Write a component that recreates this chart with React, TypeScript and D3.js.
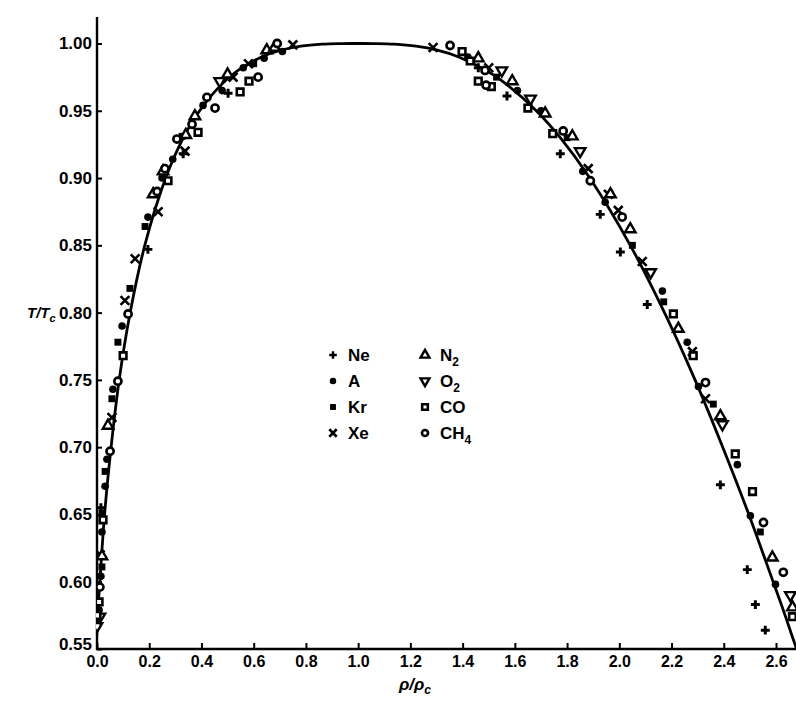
import React, { useEffect, useRef } from 'react';
import * as d3 from 'd3';

// reduced coexistence data, [rho/rho_c, T/T_c]
const neon = [
  [0.195, 0.847], [0.33, 0.918], [0.502, 0.963], [0.015, 0.655],
  [1.46, 0.982], [1.57, 0.961], [1.774, 0.918], [1.927, 0.873], [2.004, 0.845],
  [2.107, 0.806], [2.387, 0.672], [2.49, 0.609], [2.521, 0.583], [2.559, 0.564]
];
const argon = [
  [0.008, 0.579], [0.015, 0.604], [0.019, 0.637], [0.031, 0.671], [0.038, 0.691],
  [0.061, 0.743], [0.096, 0.79], [0.195, 0.871], [0.249, 0.9], [0.29, 0.914],
  [0.406, 0.954], [0.479, 0.965], [0.56, 0.982], [0.64, 0.989], [0.71, 0.994],
  [1.42, 0.99], [1.61, 0.965], [1.70, 0.95], [1.86, 0.905], [1.946, 0.882],
  [2.165, 0.816], [2.26, 0.778], [2.303, 0.745], [2.452, 0.687], [2.502, 0.649], [2.598, 0.598]
];
const krypton = [
  [0.019, 0.611], [0.019, 0.651], [0.031, 0.682], [0.057, 0.736], [0.08, 0.778],
  [0.126, 0.818], [0.184, 0.864], [0.326, 0.931], [0.6, 0.985],
  [1.53, 0.975], [1.80, 0.93], [2.05, 0.85], [2.17, 0.808], [2.36, 0.732], [2.54, 0.637]
];
const xenon = [
  [0.012, 0.62], [0.057, 0.722], [0.107, 0.809], [0.146, 0.84], [0.234, 0.875],
  [0.337, 0.92], [0.521, 0.975], [0.58, 0.985], [0.75, 0.999],
  [1.287, 0.997], [1.50, 0.982], [1.881, 0.907], [1.958, 0.888], [1.996, 0.876],
  [2.088, 0.838], [2.28, 0.771], [2.33, 0.736]
];
const nitrogen = [
  [0.019, 0.619], [0.042, 0.716], [0.215, 0.888], [0.253, 0.905], [0.34, 0.932],
  [0.375, 0.946], [0.50, 0.977], [0.65, 0.995], [0.68, 0.997],
  [1.46, 0.989], [1.59, 0.972], [1.716, 0.948], [1.82, 0.931], [1.966, 0.888],
  [2.042, 0.862], [2.226, 0.788], [2.387, 0.723], [2.586, 0.618], [2.663, 0.581]
];
const oxygen = [
  [0.0, 0.567], [0.011, 0.574], [0.47, 0.972],
  [1.55, 0.98], [1.66, 0.959], [1.85, 0.92], [2.12, 0.83], [2.395, 0.717], [2.655, 0.59]
];
const carbonMonoxide = [
  [0.0, 0.575], [0.008, 0.585], [0.023, 0.646], [0.1, 0.768], [0.272, 0.898],
  [0.387, 0.934], [0.548, 0.964], [0.582, 0.972],
  [1.398, 0.994], [1.429, 0.987], [1.46, 0.972], [1.51, 0.968], [1.65, 0.952],
  [1.745, 0.933], [2.207, 0.799], [2.283, 0.768], [2.444, 0.695], [2.51, 0.667], [2.663, 0.574]
];
const methane = [
  [0.011, 0.596], [0.05, 0.697], [0.08, 0.749], [0.119, 0.799], [0.23, 0.89],
  [0.26, 0.907], [0.306, 0.929], [0.364, 0.94], [0.421, 0.96], [0.452, 0.952],
  [0.617, 0.975], [0.69, 1.0],
  [1.352, 0.9985], [1.486, 0.98], [1.49, 0.969], [1.785, 0.935], [1.889, 0.898],
  [2.011, 0.871], [2.33, 0.748], [2.552, 0.644], [2.628, 0.607]
];

// fitted curve, vapour and liquid branches
const curveT = [0.54, 0.55, 0.56, 0.58, 0.60, 0.65, 0.70, 0.75, 0.80, 0.85, 0.90, 0.93, 0.95, 0.97, 0.98, 0.99, 0.995, 0.998, 0.9995, 0.99995];
const curveGas = [-0.006, -0.003, -0.001, 0.004, 0.011, 0.029, 0.054, 0.085, 0.127, 0.183, 0.263, 0.331, 0.393, 0.479, 0.540, 0.630, 0.704, 0.781, 0.861, 0.936];
const curveLiq = [2.696, 2.679, 2.661, 2.626, 2.589, 2.496, 2.396, 2.290, 2.173, 2.042, 1.887, 1.774, 1.682, 1.566, 1.490, 1.385, 1.303, 1.222, 1.139, 1.064];
const critical = [1.0, 1.0];

const yTicks = [0.55, 0.60, 0.65, 0.70, 0.75, 0.80, 0.85, 0.90, 0.95, 1.00];
const xTicks = [0, 0.2, 0.4, 0.6, 0.8, 1.0, 1.2, 1.4, 1.6, 1.8, 2.0, 2.2, 2.4, 2.6];

const series = [
  { name: 'Ne', sub: '', data: neon, kind: 'plus' },
  { name: 'A', sub: '', data: argon, kind: 'dot' },
  { name: 'Kr', sub: '', data: krypton, kind: 'fsquare' },
  { name: 'Xe', sub: '', data: xenon, kind: 'times' },
  { name: 'N', sub: '2', data: nitrogen, kind: 'tri' },
  { name: 'O', sub: '2', data: oxygen, kind: 'tridown' },
  { name: 'CO', sub: '', data: carbonMonoxide, kind: 'square' },
  { name: 'CH', sub: '4', data: methane, kind: 'circle' }
];

const FONT = '"Liberation Sans", Arial, Helvetica, sans-serif';

function drawMarker(g, kind, cx, cy, scale = 1) {
  const t = `translate(${cx},${cy})`;
  const sym = (type, size) => d3.symbol().type(type).size(size * scale * scale)();
  if (kind === 'plus') {
    g.append('path').attr('d', sym(d3.symbolCross, 44)).attr('transform', t).attr('fill', '#000');
  } else if (kind === 'dot') {
    g.append('circle').attr('cx', cx).attr('cy', cy).attr('r', 3.8 * scale).attr('fill', '#000');
  } else if (kind === 'fsquare') {
    g.append('path').attr('d', sym(d3.symbolSquare, 48)).attr('transform', t).attr('fill', '#000');
  } else if (kind === 'times') {
    g.append('path').attr('d', sym(d3.symbolTimes, 52)).attr('transform', t)
      .attr('fill', 'none').attr('stroke', '#000').attr('stroke-width', 2.6);
  } else if (kind === 'tri') {
    g.append('path').attr('d', sym(d3.symbolTriangle, 48)).attr('transform', t)
      .attr('fill', '#fff').attr('stroke', '#000').attr('stroke-width', 2.4);
  } else if (kind === 'tridown') {
    g.append('path').attr('d', sym(d3.symbolTriangle, 48)).attr('transform', `${t} rotate(180)`)
      .attr('fill', '#fff').attr('stroke', '#000').attr('stroke-width', 2.4);
  } else if (kind === 'square') {
    g.append('path').attr('d', sym(d3.symbolSquare, 44)).attr('transform', t)
      .attr('fill', '#fff').attr('stroke', '#000').attr('stroke-width', 2.6);
  } else {
    g.append('circle').attr('cx', cx).attr('cy', cy).attr('r', 3.6 * scale)
      .attr('fill', '#fff').attr('stroke', '#000').attr('stroke-width', 2.6);
  }
}

const App = () => {
  const svgRef = useRef(null);

  useEffect(() => {
    const width = 796;
    const svg = d3.select(svgRef.current);
    svg.selectAll('*').remove();

    const x = d3.scaleLinear().domain([0, 2.6]).range([97, 776]);
    const y = d3.scaleLinear().domain([0.55, 1.0]).range([649, 43.5]);

    svg.append('defs').append('clipPath').attr('id', 'plotClip')
      .append('rect').attr('x', 96).attr('y', 0).attr('width', width - 96).attr('height', 650);

    // axes
    const yAxis = svg.append('g')
      .attr('transform', 'translate(97,0)')
      .call(d3.axisLeft(y).tickValues(yTicks).tickSize(-5).tickSizeOuter(0).tickPadding(5)
        .tickFormat(d3.format('.2f')));
    const xAxis = svg.append('g')
      .attr('transform', 'translate(0,649)')
      .call(d3.axisBottom(x).tickValues(xTicks).tickSize(-6).tickSizeOuter(0).tickPadding(7)
        .tickFormat(d3.format('.1f')));
    [yAxis, xAxis].forEach(a => {
      a.select('.domain').remove();
      a.selectAll('line').attr('stroke', '#000').attr('stroke-width', 2);
      a.selectAll('text').attr('fill', '#000').attr('font-family', FONT)
        .attr('font-size', 17).attr('font-weight', 'bold');
    });
    xAxis.selectAll('text').attr('dy', '0.7em').attr('font-size', 16);
    // lowest y label sits a little high in the original, clear of the 0.0 label
    yAxis.selectAll('text').filter(d => d === 0.55).attr('dy', '0.05em');

    svg.append('line').attr('x1', 97).attr('x2', 97).attr('y1', 17).attr('y2', 650)
      .attr('stroke', '#000').attr('stroke-width', 2.4);
    svg.append('line').attr('x1', 96).attr('x2', width).attr('y1', 649).attr('y2', 649)
      .attr('stroke', '#000').attr('stroke-width', 2.6);

    // fitted curve
    const pts = [
      ...curveT.map((t, i) => [curveGas[i], t]),
      critical,
      ...curveT.map((t, i) => [curveLiq[i], t]).reverse()
    ];
    const line = d3.line().x(d => x(d[0])).y(d => y(d[1])).curve(d3.curveCatmullRom.alpha(0.5));
    const plot = svg.append('g').attr('clip-path', 'url(#plotClip)');
    plot.append('path').attr('d', line(pts)).attr('fill', 'none')
      .attr('stroke', '#000').attr('stroke-width', 2.8);

    // points
    series.forEach(s => {
      s.data.forEach(([r, t]) => drawMarker(plot, s.kind, x(r), y(t)));
    });

    // legend
    const legend = svg.append('g');
    series.forEach((s, i) => {
      const col = Math.floor(i / 4);
      const row = i % 4;
      const mx = col === 0 ? 333 : 425;
      const my = 355 + row * 26;
      drawMarker(legend, s.kind, mx, my, 0.85);
      const txt = legend.append('text').attr('x', mx + 15).attr('y', my + 6)
        .attr('font-family', FONT).attr('font-size', 17).attr('font-weight', 'bold').text(s.name);
      if (s.sub) {
        txt.append('tspan').attr('font-size', 12).attr('dy', 5).text(s.sub);
      }
    });

    // axis titles
    const yl = svg.append('text').attr('x', 27).attr('y', 318)
      .attr('font-family', FONT).attr('font-size', 15).attr('font-weight', 'bold')
      .attr('font-style', 'italic').text('T/T');
    yl.append('tspan').attr('font-size', 11).attr('dy', 4).text('c');

    const xl = svg.append('text').attr('x', 399).attr('y', 690)
      .attr('font-family', FONT).attr('font-size', 17).attr('font-weight', 'bold')
      .attr('font-style', 'italic').text('ρ/ρ');
    xl.append('tspan').attr('font-size', 12).attr('dy', 4).text('c');
  }, []);

  return (
    <svg
      ref={svgRef}
      width={796}
      height={702}
      viewBox="0 0 796 702"
      style={{ position: 'absolute', left: 0, top: 0, background: '#fff' }}
    />
  );
};

export default App;
